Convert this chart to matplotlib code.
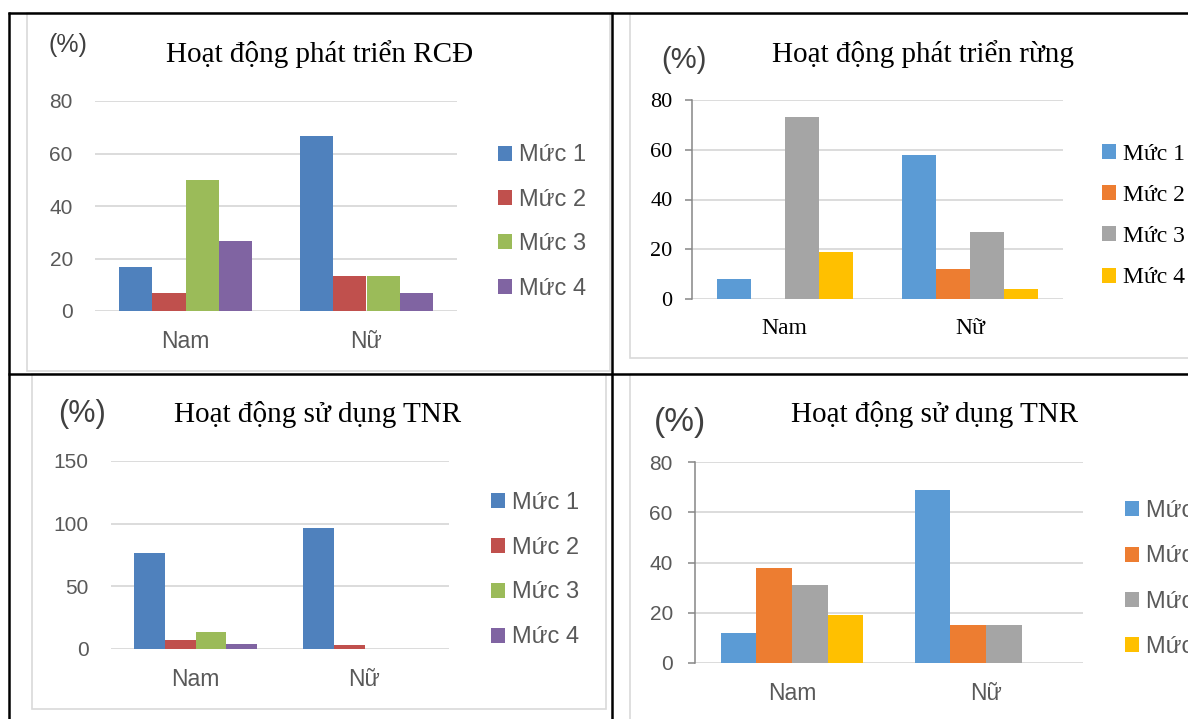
import matplotlib
matplotlib.use('Agg')
import matplotlib.pyplot as plt
from matplotlib.patches import Rectangle
import numpy as np

W, H = 1188, 719

groups = ['Nam', 'Nữ']
levels = ['Mức 1', 'Mức 2', 'Mức 3', 'Mức 4']

# percentages per level, one list per sex
rcd_nam = [16.7, 6.7, 50.0, 26.7]
rcd_nu = [66.7, 13.3, 13.3, 6.7]
rung_nam = [8, 0, 73, 19]
rung_nu = [58, 12, 27, 4]
tnr_a_nam = [76.9, 7.2, 13.5, 3.8]
tnr_a_nu = [96.7, 3.3, 0, 0]
tnr_b_nam = [12, 38, 31, 19]
tnr_b_nu = [69, 15, 15, 0]

old_office = ['#4F81BD', '#C0504D', '#9BBB59', '#8064A2']
new_office = ['#5B9BD5', '#ED7D31', '#A5A5A5', '#FFC000']

SANS = 'Liberation Sans'
SERIF = 'Liberation Serif'
GREY = '#595959'

fig = plt.figure(figsize=(W / 100, H / 100), dpi=100)
fig.patch.set_facecolor('white')

# background layer in pixel coordinates for the table grid, frames and titles
bg = fig.add_axes([0, 0, 1, 1], zorder=0)
bg.set_xlim(0, W)
bg.set_ylim(H, 0)
bg.axis('off')

for (x0, y0, x1, y1) in [(27, 13, 610, 371), (630, 14, 1195, 358),
                         (32, 374, 606, 709), (630, 374, 1195, 725)]:
    bg.add_patch(Rectangle((x0, y0), x1 - x0, y1 - y0, fill=False,
                           ec='#D9D9D9', lw=1.2))

table_kw = dict(color='black', lw=1.8, solid_capstyle='butt')
bg.plot([8, W], [12.5, 12.5], **table_kw)
bg.plot([8, W], [373.5, 373.5], **table_kw)
bg.plot([9, 9], [12, H], **table_kw)
bg.plot([612, 612], [12, H], **table_kw)


def box(x0, y0, x1, y1):
    return [x0 / W, 1 - y1 / H, (x1 - x0) / W, (y1 - y0) / H]


def panel(rect, nam, nu, colors, ymax, step, font, tick_color, tick_size,
          cat_size, spine, ypad, legend_at, leg_size, leg_spacing):
    ax = fig.add_axes(box(*rect), zorder=1)
    x = np.arange(len(groups))
    w = 0.183
    for i, lev in enumerate(levels):
        ax.bar(x + (i - 1.5) * w, [nam[i], nu[i]], w, color=colors[i],
               label=lev, zorder=2)
    ax.set_xlim(-0.5, 1.5)
    ax.set_ylim(0, ymax)
    ax.set_yticks(np.arange(0, ymax + 1, step))
    ax.set_xticks(x)
    ax.set_xticklabels(groups)
    ax.grid(axis='y', color='#D9D9D9', lw=1.3, zorder=0)
    ax.set_axisbelow(True)
    ax.set_facecolor('none')
    for s in ('top', 'right', 'bottom', 'left'):
        ax.spines[s].set_visible(False)
    if spine:
        ax.spines['left'].set_visible(True)
        ax.spines['left'].set_color('#868686')
        ax.spines['left'].set_linewidth(1.1)
        ax.tick_params(axis='y', length=5, width=1.1, color='#868686',
                       direction='out', pad=ypad)
    else:
        ax.tick_params(axis='y', length=0, pad=ypad)
    ax.tick_params(axis='x', length=0, pad=14)
    for t in ax.get_yticklabels():
        t.set_fontfamily(font)
        t.set_fontsize(tick_size)
        t.set_color(tick_color)
    for t in ax.get_xticklabels():
        t.set_fontfamily(font)
        t.set_fontsize(cat_size)
        t.set_color(tick_color)
    lx, ly = legend_at
    ax.legend(loc='center left', bbox_to_anchor=(lx / W, 1 - ly / H),
              bbox_transform=fig.transFigure, frameon=False,
              prop={'family': font, 'size': leg_size},
              labelcolor=tick_color, handlelength=0.6, handleheight=0.6,
              handletextpad=0.3, borderpad=0, borderaxespad=0,
              labelspacing=leg_spacing)
    return ax


panel((95, 101, 457, 311), rcd_nam, rcd_nu, old_office, 80, 20, SANS, GREY,
      15, 16.5, False, 16, (498, 222), 17, 0.95)
panel((692, 100, 1063, 299), rung_nam, rung_nu, new_office, 80, 20, SERIF,
      'black', 16, 17, True, 9, (1102, 216), 17, 0.86)
panel((111, 461, 449, 649), tnr_a_nam, tnr_a_nu, old_office, 150, 50, SANS,
      GREY, 15, 16.5, False, 16, (491, 570), 17, 0.97)
panel((695, 462, 1083, 663), tnr_b_nam, tnr_b_nu, new_office, 80, 20, SANS,
      GREY, 15, 16.5, True, 11, (1125, 579), 17, 0.98)

titles = [('Hoạt động phát triển RCĐ', 320, 62),
          ('Hoạt động phát triển rừng', 923, 62),
          ('Hoạt động sử dụng TNR', 318, 421.5),
          ('Hoạt động sử dụng TNR', 935, 421.5)]
for text, cx, by in titles:
    bg.text(cx, by, text, family=SERIF, size=21, color='black',
            ha='center', va='baseline')

units = [(68, 45, 18), (684, 60, 21), (82, 414, 22), (680, 422, 24)]
for cx, cy, size in units:
    bg.text(cx, cy, '(%)', family=SANS, size=size, color='#404040',
            ha='center', va='center')

fig.savefig('out.png', dpi=100, facecolor='white')
